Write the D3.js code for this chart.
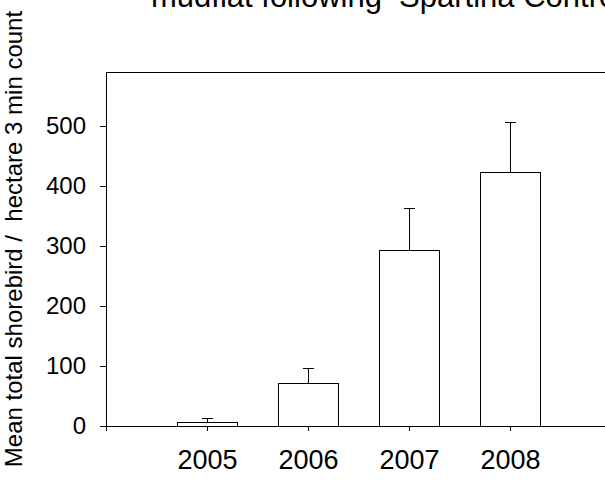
<!DOCTYPE html>
<html>
<head>
<meta charset="utf-8">
<script src="https://cdn.jsdelivr.net/npm/d3@7"></script>
<style>
  html, body { margin: 0; padding: 0; background: #fff; }
  svg { display: block; font-family: Arial, "Liberation Sans", sans-serif; }
</style>
</head>
<body>
<svg id="chart" width="605" height="492"></svg>
<script>
// Shorebird counts per year (mean and standard error)
const years = [2005, 2006, 2007, 2008];
const means = [7, 72, 294, 423];
const errors = [6, 24, 70, 84];
const yTicks = [0, 100, 200, 300, 400, 500];
const xTicks = [2004, 2005, 2006, 2007, 2008];
const titleText = "mudflat following  Spartina Control";
const yTitle = "Mean total shorebird /  hectare 3 min count";

const svg = d3.select("#chart");

const x = d3.scaleLinear().domain([2004, 2009]).range([106, 611]);
const y = d3.scaleLinear().domain([0, 590]).range([426, 72]);
const barWidth = 0.6; // in years
const capHalf = 5.5;  // px

// top frame line
svg.append("line")
  .attr("x1", x(2004)).attr("x2", x(2009))
  .attr("y1", Math.round(y(590)) + 0.5).attr("y2", Math.round(y(590)) + 0.5)
  .attr("stroke", "#000").attr("stroke-width", 1);

// bars
const data = years.map((yr, i) => ({ yr, m: means[i], e: errors[i] }));
const g = svg.append("g");
g.selectAll("rect.bar").data(data).join("rect")
  .attr("class", "bar")
  .attr("x", d => Math.round(x(d.yr - barWidth / 2)) + 0.5)
  .attr("y", d => Math.round(y(d.m)) + 0.5)
  .attr("width", d => Math.round(x(d.yr + barWidth / 2)) - Math.round(x(d.yr - barWidth / 2)))
  .attr("height", d => Math.round(y(0)) - Math.round(y(d.m)))
  .attr("fill", "#fff").attr("stroke", "#000").attr("stroke-width", 1);

// error bars (upper only)
g.selectAll("line.err").data(data).join("line")
  .attr("class", "err")
  .attr("x1", d => Math.round(x(d.yr)) + 0.5).attr("x2", d => Math.round(x(d.yr)) + 0.5)
  .attr("y1", d => Math.round(y(d.m)) + 0.5)
  .attr("y2", d => Math.round(y(d.m + d.e)) + 0.5)
  .attr("stroke", "#000").attr("stroke-width", 1);
g.selectAll("line.cap").data(data).join("line")
  .attr("class", "cap")
  .attr("x1", d => Math.round(x(d.yr)) + 0.5 - capHalf)
  .attr("x2", d => Math.round(x(d.yr)) + 0.5 + capHalf)
  .attr("y1", d => Math.round(y(d.m + d.e)) + 0.5)
  .attr("y2", d => Math.round(y(d.m + d.e)) + 0.5)
  .attr("stroke", "#000").attr("stroke-width", 1);

// y axis
const yAxis = svg.append("g")
  .attr("transform", `translate(${x(2004)},0)`)
  .call(d3.axisLeft(y).tickValues(yTicks).tickSize(6).tickSizeOuter(0).tickPadding(14));
yAxis.selectAll("text").attr("font-size", 24).attr("font-family", "Arial, 'Liberation Sans', sans-serif").attr("fill", "#000");
yAxis.selectAll("line, path").attr("stroke", "#000");

// x axis
const xAxis = svg.append("g")
  .attr("transform", `translate(0,${y(0)})`)
  .call(d3.axisBottom(x).tickValues(xTicks).tickSize(5).tickSizeOuter(0)
    .tickFormat(d => years.includes(d) ? String(d) : ""));
xAxis.selectAll("text")
  .attr("font-size", 27).attr("font-family", "Arial, 'Liberation Sans', sans-serif")
  .attr("fill", "#000").attr("y", 24);
xAxis.selectAll("line, path").attr("stroke", "#000");

// title (partially outside the top)
svg.append("text")
  .attr("x", 151).attr("y", 7)
  .attr("font-size", 31)
  .attr("fill", "#000")
  .style("white-space", "pre")
  .text(titleText);

// y axis title
svg.append("text")
  .attr("transform", "translate(22,239) rotate(-90)")
  .attr("text-anchor", "middle")
  .attr("font-size", 24)
  .attr("fill", "#000")
  .style("white-space", "pre")
  .text(yTitle);
</script>
</body>
</html>
